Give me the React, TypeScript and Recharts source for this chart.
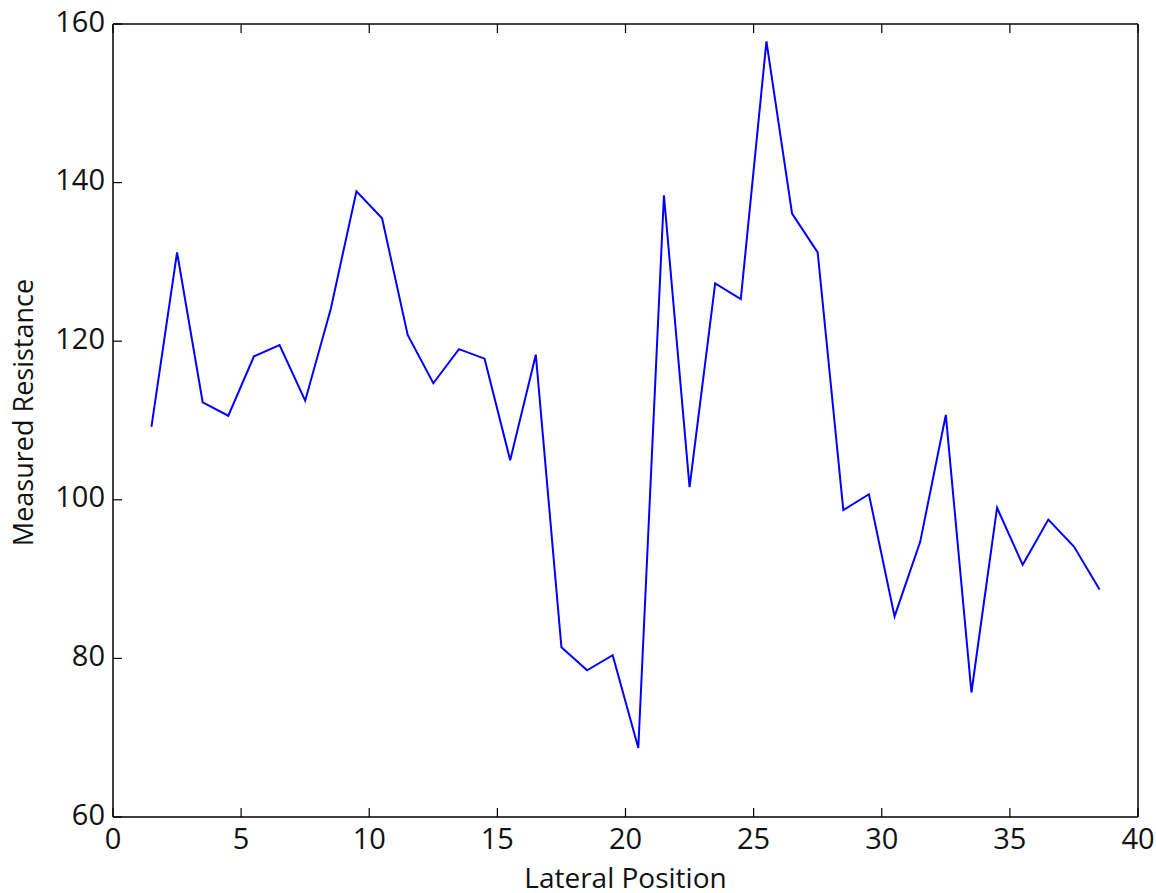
import React from 'react';
import { LineChart, Line, XAxis, YAxis } from 'recharts';

const positions = [
  1.5, 2.5, 3.5, 4.5, 5.5, 6.5, 7.5, 8.5, 9.5, 10.5,
  11.5, 12.5, 13.5, 14.5, 15.5, 16.5, 17.5, 18.5, 19.5, 20.5,
  21.5, 22.5, 23.5, 24.5, 25.5, 26.5, 27.5, 28.5, 29.5, 30.5,
  31.5, 32.5, 33.5, 34.5, 35.5, 36.5, 37.5, 38.5,
];
const resistance = [
  109.2, 131.2, 112.3, 110.6, 118.1, 119.5, 112.5, 124.1, 138.9, 135.5,
  120.8, 114.7, 119.0, 117.8, 105.0, 118.3, 81.4, 78.5, 80.4, 68.7,
  138.4, 101.6, 127.3, 125.3, 157.8, 136.1, 131.2, 98.7, 100.7, 85.3,
  94.7, 110.7, 75.7, 99.0, 91.8, 97.5, 94.1, 88.7,
];
const xTicks = [0, 5, 10, 15, 20, 25, 30, 35, 40];
const yTicks = [60, 80, 100, 120, 140, 160];
const xLabel = 'Lateral Position';
const yLabel = 'Measured Resistance';

const data = positions.map((x, i) => ({ x, r: resistance[i] }));

const FONT = "'Open Sans', 'Noto Sans', sans-serif";
const TICK_FS = 29;
const TICK_LEN = 9;
const axisLine = { stroke: '#000', strokeWidth: 1.5 };

const BottomTick = (p: any) => {
  const axisY = p.y - 15;
  return (
    <g>
      <line x1={p.x} x2={p.x} y1={axisY} y2={axisY - TICK_LEN} stroke="#000" strokeWidth={1.2} />
      <text x={p.x} y={axisY + 32} textAnchor="middle" fontSize={TICK_FS} fontFamily={FONT} fill="#111">
        {p.payload.value}
      </text>
    </g>
  );
};
const LeftTick = (p: any) => {
  const axisX = p.x + 8;
  return (
    <g>
      <line x1={axisX} x2={axisX + TICK_LEN} y1={p.y} y2={p.y} stroke="#000" strokeWidth={1.2} />
      <text x={p.x} y={p.y + 7.5} textAnchor="end" fontSize={TICK_FS} fontFamily={FONT} fill="#111">
        {p.payload.value}
      </text>
    </g>
  );
};
const TopTick = (p: any) => (
  <line x1={p.x} x2={p.x} y1={p.y} y2={p.y + TICK_LEN} stroke="#000" strokeWidth={1.2} />
);
const RightTick = (p: any) => (
  <line x1={p.x} x2={p.x - TICK_LEN} y1={p.y} y2={p.y} stroke="#000" strokeWidth={1.2} />
);

const XLabel = (props: any) => {
  const vb = props.viewBox || {};
  return (
    <text x={vb.x + vb.width / 2} y={vb.y + vb.height - 5} textAnchor="middle"
      fontSize={28} fontFamily={FONT} fill="#111">{xLabel}</text>
  );
};

const YLabelC = (props: any) => {
  const vb = props.viewBox || {};
  const cx = 33;
  const cy = vb.y + vb.height / 2 - 8;
  return (
    <text x={cx} y={cy} transform={`rotate(-90 ${cx} ${cy})`} textAnchor="middle"
      fontSize={27} fontFamily={FONT} fill="#111">{yLabel}</text>
  );
};

export default function App() {
  return (
    <div style={{ position: 'absolute', left: 0, top: 0, width: 1156, height: 893, background: '#fff' }}>
      <LineChart width={1156} height={893} data={data}
        margin={{ top: 23, right: 17, left: 0, bottom: 0 }}>
        <XAxis dataKey="x" type="number" domain={[0, 40]} ticks={xTicks} interval={0}
          height={76} tickSize={0} tickMargin={15} tick={<BottomTick />}
          axisLine={axisLine} tickLine={false} label={<XLabel />} />
        <XAxis xAxisId="top" orientation="top" dataKey="x" type="number" domain={[0, 40]}
          ticks={xTicks} interval={0} height={1} tickSize={0} tickMargin={0} tick={<TopTick />}
          axisLine={axisLine} tickLine={false} />
        <YAxis type="number" domain={[60, 160]} ticks={yTicks} interval={0}
          width={113} tickSize={0} tickMargin={8} tick={<LeftTick />}
          axisLine={axisLine} tickLine={false} label={<YLabelC />} />
        <YAxis yAxisId="right" orientation="right" type="number" domain={[60, 160]}
          ticks={yTicks} interval={0} width={1} tickSize={0} tickMargin={0} tick={<RightTick />}
          axisLine={axisLine} tickLine={false} />
        <Line type="linear" dataKey="r" stroke="#0000ff" strokeWidth={2} dot={false}
          activeDot={false} isAnimationActive={false} />
      </LineChart>
    </div>
  );
}
